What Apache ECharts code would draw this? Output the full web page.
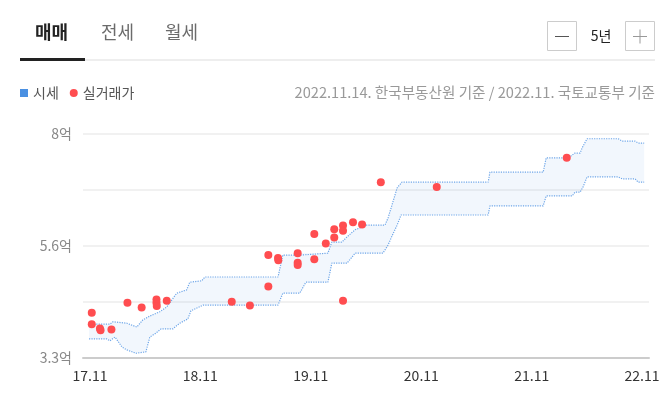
<!DOCTYPE html>
<html><head><meta charset="utf-8">
<script src="https://cdn.jsdelivr.net/npm/echarts@6/dist/echarts.min.js"></script>
<style>html,body{margin:0;padding:0;background:#fff}#c{width:669px;height:393px}</style>
</head><body><div id="c"></div>
<script>
// ---- data ----
const xTickDates = ['2017-11-01','2018-11-01','2019-11-01','2020-11-01','2021-11-01','2022-11-01'];
const xTickLabels = ['17.11','18.11','19.11','20.11','21.11','22.11'];
const yTickLabels = ['3.3억','','5.6억','','8억'];

// 시세 upper bound (억)
const upperDates = ['2017-10-29','2018-01-06','2018-01-16','2018-03-03','2018-04-05','2018-04-25','2018-05-18','2018-06-20','2018-07-13','2018-08-15','2018-09-17','2018-09-27','2018-11-06','2018-11-16','2019-07-16','2019-08-01','2019-09-30','2019-10-03','2019-12-28','2020-01-10','2020-02-12','2020-02-29','2020-03-27','2020-05-05','2020-07-04','2020-07-14','2020-07-27','2020-08-13','2020-08-29','2021-06-10','2021-06-16','2021-12-09','2021-12-19','2022-02-26','2022-03-11','2022-03-24','2022-04-10','2022-04-17','2022-05-03','2022-08-14','2022-08-27','2022-10-09','2022-10-19','2022-11-08'];
const upperValues = [4.01,4.01,4.06,4.03,3.95,4.10,4.18,4.27,4.37,4.66,4.73,4.89,4.92,5.00,5.00,5.46,5.46,5.50,5.50,5.73,5.73,5.84,5.99,6.09,6.09,6.24,6.51,6.87,6.99,6.99,7.20,7.20,7.50,7.50,7.54,7.60,7.60,7.71,7.90,7.90,7.85,7.85,7.81,7.81];

// 시세 lower bound (억)
const lowerDates = ['2017-10-29','2017-12-27','2018-01-06','2018-01-23','2018-02-15','2018-03-03','2018-04-02','2018-05-05','2018-05-18','2018-06-07','2018-06-24','2018-08-02','2018-08-25','2018-09-21','2018-10-01','2018-11-10','2019-07-16','2019-08-01','2019-09-26','2019-10-16','2019-12-28','2020-01-10','2020-02-29','2020-03-17','2020-03-27','2020-06-27','2020-07-14','2020-07-27','2020-08-13','2020-08-26','2021-06-10','2021-06-16','2021-12-09','2021-12-19','2022-03-15','2022-03-24','2022-04-10','2022-04-20','2022-05-03','2022-08-14','2022-08-27','2022-10-09','2022-10-19','2022-11-08'];
const lowerValues = [3.70,3.70,3.66,3.74,3.53,3.47,3.40,3.43,3.74,3.82,3.91,3.91,4.03,4.12,4.29,4.41,4.41,4.66,4.66,4.89,4.89,5.29,5.29,5.42,5.50,5.50,5.67,5.86,6.09,6.30,6.30,6.49,6.49,6.70,6.70,6.78,6.78,6.89,7.10,7.10,7.06,7.06,6.99,6.99];

// 실거래가 (억)
const dealDates = ['2017-11-07','2017-11-07','2017-12-04','2017-12-06','2018-01-11','2018-03-05','2018-04-21','2018-06-09','2018-06-09','2018-06-10','2018-07-13','2019-02-13','2019-04-14','2019-06-14','2019-06-14','2019-07-16','2019-07-17','2019-09-19','2019-09-19','2019-09-19','2019-11-13','2019-11-13','2019-12-21','2020-01-18','2020-01-18','2020-02-16','2020-02-16','2020-02-16','2020-03-20','2020-04-19','2020-06-20','2020-12-22','2022-02-25'];
const dealValues = [4.25,4.01,3.92,3.88,3.90,4.46,4.36,4.53,4.46,4.39,4.50,4.48,4.40,5.46,4.80,5.40,5.35,5.50,5.30,5.25,5.90,5.37,5.70,6.00,5.83,6.08,5.97,4.50,6.15,6.10,6.99,6.89,7.50];

// ---- chart ----
function toTs(s){const p=s.split('-').map(Number);return Date.UTC(p[0],p[1]-1,p[2]);}
const xTickTs = xTickDates.map(toTs);
const FONT = '"Noto Sans CJK KR", "Noto Sans", sans-serif';
const BAND_LINE = '#6ea6e8';

const chart = echarts.init(document.getElementById('c'), null, {renderer:'canvas'});
chart.setOption({
  animation:false,
  textStyle:{fontFamily:FONT},
  grid:{left:83, right:20, top:134, bottom:35, containLabel:false},
  legend:{
    left:15, top:81, itemWidth:8, itemHeight:8, itemGap:11,
    textStyle:{fontSize:14, color:'#555', fontFamily:FONT},
    data:[{name:'시세', icon:'rect'},{name:'실거래가', icon:'circle'}],
    selectedMode:false
  },
  xAxis:{
    type:'value', min:toTs('2017-10-09'), max:toTs('2022-11-24'),
    axisLine:{show:true, lineStyle:{color:'#cccccc', width:2}},
    axisTick:{show:false},
    splitLine:{show:false},
    axisLabel:{
      customValues:xTickTs, color:'#333', fontSize:14, margin:11, fontFamily:FONT,
      formatter:function(v){const i=xTickTs.indexOf(v);return i>=0?xTickLabels[i]:'';}
    }
  },
  yAxis:{
    type:'value', min:3.3, max:8, interval:1.175,
    axisLine:{show:false}, axisTick:{show:false},
    splitLine:{lineStyle:{color:'#ececec', width:1.5}},
    axisLabel:{color:'#888', fontSize:14, margin:11, fontFamily:FONT,
      formatter:function(v,i){return yTickLabels[i]||'';}}
  },
  series:[
    {
      name:'시세', type:'custom', z:1,
      itemStyle:{color:'#4a90e2'},
      data:[[toTs('2020-01-01'),5]],
      renderItem:function(params, api){
        const pts=[];
        for(let i=0;i<upperDates.length;i++) pts.push(api.coord([toTs(upperDates[i]), upperValues[i]]));
        for(let i=lowerDates.length-1;i>=0;i--) pts.push(api.coord([toTs(lowerDates[i]), lowerValues[i]]));
        return {type:'polygon', shape:{points:pts}, style:{fill:'rgba(74,144,226,0.07)'}, silent:true};
      }
    },
    {
      name:'시세상단', type:'line', z:2, showSymbol:false, silent:true,
      lineStyle:{type:'dotted', width:1.2, color:BAND_LINE},
      data:upperDates.map((d,i)=>[toTs(d), upperValues[i]])
    },
    {
      name:'시세하단', type:'line', z:2, showSymbol:false, silent:true,
      lineStyle:{type:'dotted', width:1.2, color:BAND_LINE},
      data:lowerDates.map((d,i)=>[toTs(d), lowerValues[i]])
    },
    {
      name:'실거래가', type:'scatter', z:3, symbolSize:8,
      itemStyle:{color:'#ff4d50', opacity:1},
      data:dealDates.map((d,i)=>[toTs(d), dealValues[i]])
    }
  ],
  graphic:[
    {type:'text', left:35, top:23, style:{text:'매매', fill:'#222', font:'bold 18px '+FONT}},
    {type:'text', left:101, top:23, style:{text:'전세', fill:'#6b6b6b', font:'18px '+FONT}},
    {type:'text', left:165, top:23, style:{text:'월세', fill:'#6b6b6b', font:'18px '+FONT}},
    {type:'rect', shape:{x:85, y:59.5, width:570, height:1}, style:{fill:'#dddddd'}},
    {type:'rect', shape:{x:20, y:58, width:65, height:3}, style:{fill:'#222222'}},
    {type:'rect', shape:{x:547.5, y:21.5, width:29, height:29}, style:{fill:'#fff', stroke:'#cccccc', lineWidth:1}},
    {type:'line', shape:{x1:555, y1:36.5, x2:569, y2:36.5}, style:{stroke:'#555', lineWidth:1}},
    {type:'text', x:601, y:36, style:{text:'5년', fill:'#222', font:'14px '+FONT, align:'center', verticalAlign:'middle'}},
    {type:'rect', shape:{x:625.5, y:21.5, width:29, height:29}, style:{fill:'#fff', stroke:'#cccccc', lineWidth:1}},
    {type:'line', shape:{x1:633, y1:36.5, x2:647, y2:36.5}, style:{stroke:'#999', lineWidth:1}},
    {type:'line', shape:{x1:640, y1:29.5, x2:640, y2:43.5}, style:{stroke:'#999', lineWidth:1}},
    {type:'text', x:655, y:92, style:{text:'2022.11.14. 한국부동산원 기준 / 2022.11. 국토교통부 기준', fill:'#999', font:'14.6px '+FONT, align:'right', verticalAlign:'middle'}}
  ]
});
</script></body></html>
